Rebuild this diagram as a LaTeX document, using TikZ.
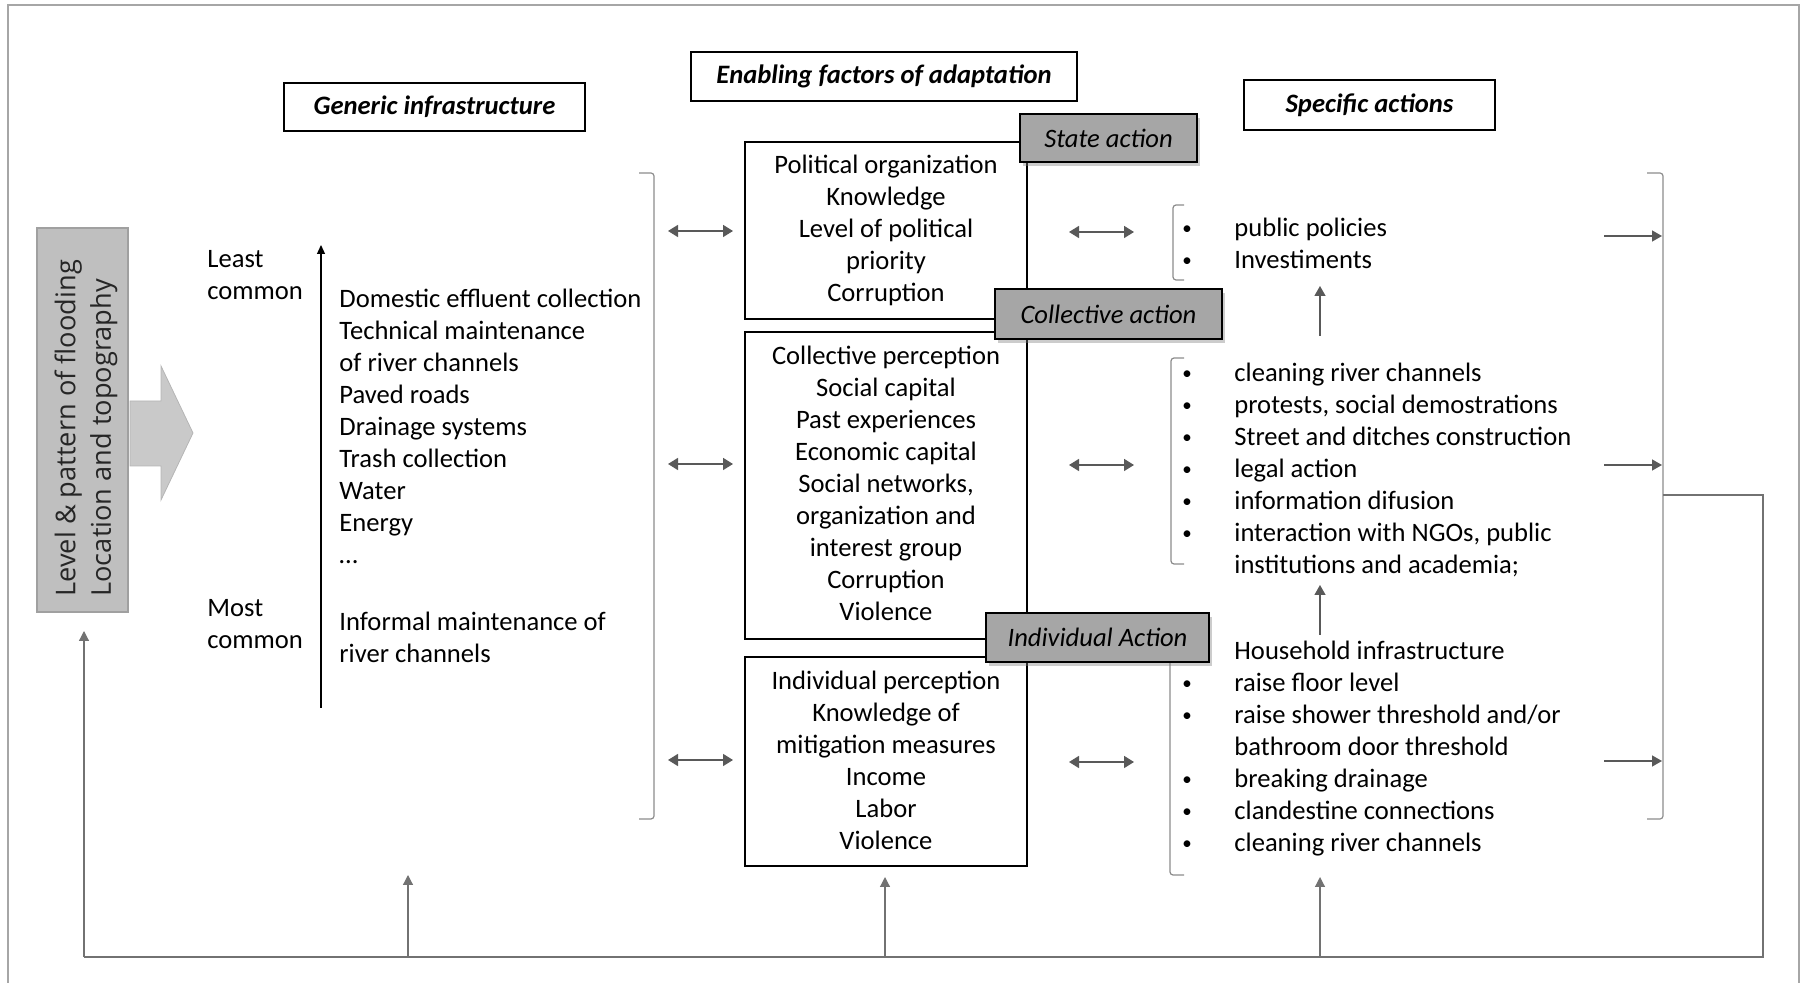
\documentclass[tikz,border=0pt]{standalone}
\usepackage{fontspec}
\setmainfont{Carlito}
\newfontfamily\rotfont{Open Sans}
\usetikzlibrary{arrows.meta,shadows}
\definecolor{arrgray}{HTML}{595959}
\definecolor{brgray}{HTML}{8C8C8C}
\definecolor{boxgray}{HTML}{BFBFBF}
\definecolor{boxedge}{HTML}{A0A0A0}
\definecolor{labgray}{HTML}{A6A6A6}
\definecolor{framegray}{HTML}{A6A6A6}
\definecolor{bigarrow}{HTML}{C9C9C9}
\newcommand\smbul{\strut\raisebox{1.2pt}{\fontsize{9.5}{16}\selectfont •}}
\begin{document}
\begin{tikzpicture}[x=0.5pt,y=-0.5pt,
  txt/.style={font=\fontsize{13.3}{16}\selectfont, inner sep=0pt, text=black},
  header/.style={draw=black, line width=0.7pt, font=\fontsize{13.3}{16}\selectfont\bfseries\itshape, inner sep=0pt},
  factbox/.style={draw=black, line width=0.8pt, inner sep=0pt, fill=white},
  actlabel/.style={draw=black, line width=1.4pt, fill=labgray, font=\fontsize{13.3}{16}\selectfont\itshape, inner sep=0pt, drop shadow={opacity=0.4,shadow xshift=1.5pt,shadow yshift=-2pt}},
  dblarrow/.style={arrgray, line width=0.8pt, {Triangle[length=5pt,width=6pt]}-{Triangle[length=5pt,width=6pt]}},
  onearrow/.style={arrgray, line width=0.7pt, -{Triangle[length=5pt,width=5.5pt]}},
  bracketline/.style={brgray, line width=0.6pt, rounded corners=1.5pt},
  loopline/.style={arrgray!85, line width=0.6pt},
]
\useasboundingbox (0,0) rectangle (1806,983);
% outer frame
\draw[framegray, line width=1pt] (8,983) -- (8,5) -- (1799,5) -- (1799,983);

% headers
\node[header, minimum width=150.5pt, minimum height=24pt] (hgen) at (434.5,107) {Generic infrastructure};
\node[header, minimum width=193pt, minimum height=24.5pt] (henab) at (884,76.5) {Enabling factors of adaptation};
\node[header, minimum width=125.5pt, minimum height=25pt] (hspec) at (1369.5,105) {Specific actions};

% left gray box and big arrow
\node[fill=boxgray, draw=boxedge, line width=0.6pt, minimum width=45.5pt, minimum height=192pt, inner sep=0pt] (flood) at (82.5,420) {};
\node[rotate=90, anchor=north west, align=left, inner sep=0pt, font=\rotfont\fontsize{13.6}{17.8}\selectfont, text=black!85] (floodtxt) at (50,597) {\strut Level \& pattern of flooding\\\strut Location and topography};
\draw[fill=bigarrow, draw=bigarrow!90!black, line width=0.4pt] (130,401) -- (161,401) -- (161,366) -- (193,433) -- (161,500) -- (161,466) -- (130,466) -- cycle;

% least / most
\node[txt, anchor=north west, align=left] (least) at (207,245) {\strut Least\\\strut common};
\node[txt, anchor=north west, align=left] (most) at (207,594) {\strut Most\\\strut common};
\coordinate (scaleB) at (321,708);
\coordinate (scaleT) at (321,245);
\draw[black, line width=0.6pt, -{Triangle[length=4.5pt,width=4pt]}] (scaleB) -- (scaleT);

% generic list
\node[txt, anchor=north west, align=left] (genlist) at (339,285) {\strut Domestic effluent collection\\\strut Technical maintenance\\\strut of river channels\\\strut Paved roads\\\strut Drainage systems\\\strut Trash collection\\\strut Water\\\strut Energy\\\strut …};
\node[txt, anchor=north west, align=left] (informal) at (339,608) {\strut Informal maintenance of\\\strut river channels};

% left bracket
\coordinate (lbT) at (654,173);
\coordinate (lbB) at (654,819);
\draw[bracketline] (639,173) -- (lbT) -- (lbB) -- (639,819);

% factor boxes
\node[factbox, minimum width=141pt, minimum height=88.5pt] (b1) at (886,230.5) {};
\node[factbox, minimum width=141pt, minimum height=153.5pt] (b2) at (886,485.5) {};
\node[factbox, minimum width=141pt, minimum height=104.5pt] (b3) at (886,761.5) {};
\node[txt, anchor=north, align=center] (b1t) at (886,151) {\strut Political organization\\\strut Knowledge\\\strut Level of political\\\strut priority\\\strut Corruption};
\node[txt, anchor=north, align=center] (b2t) at (886,342) {\strut Collective perception\\\strut Social capital\\\strut Past experiences\\\strut Economic capital\\\strut Social networks,\\\strut organization and\\\strut interest group\\\strut Corruption\\\strut Violence};
\node[txt, anchor=north, align=center] (b3t) at (886,667) {\strut Individual perception\\\strut Knowledge of\\\strut mitigation measures\\\strut Income\\\strut Labor\\\strut Violence};

% right small brackets
\draw[bracketline] (1184,205) -- (1173,205) -- (1173,280) -- (1184,280);
\draw[bracketline] (1184,358) -- (1171,358) -- (1171,564) -- (1184,564);
\draw[bracketline] (1170,650) -- (1170,875) -- (1184,875);

% action labels
\node[actlabel, minimum width=88.5pt, minimum height=24pt] (state) at (1108.5,138) {State action};
\node[actlabel, minimum width=113.5pt, minimum height=25pt] (coll) at (1108.5,314) {Collective action};
\node[actlabel, minimum width=111.5pt, minimum height=24.5pt] (indiv) at (1097.5,637.5) {Individual Action};

% specific lists
\node[txt, anchor=north, align=center] (bul1) at (1187,214) {\smbul\\\smbul};
\node[txt, anchor=north west, align=left] (list1) at (1234,214) {\strut public policies\\\strut Investiments};
\node[txt, anchor=north, align=center] (bul2) at (1187,359) {\smbul\\\smbul\\\smbul\\\smbul\\\smbul\\\smbul};
\node[txt, anchor=north west, align=left] (list2) at (1234,359) {\strut cleaning river channels\\\strut protests, social demostrations\\\strut Street and ditches construction\\\strut legal action\\\strut information difusion\\\strut interaction with NGOs, public\\\strut institutions and academia;};
\node[txt, anchor=north, align=center] (bul3) at (1187,637) {\strut\\\smbul\\\smbul\\\strut\\\smbul\\\smbul\\\smbul};
\node[txt, anchor=north west, align=left] (list3) at (1234,637) {\strut Household infrastructure\\\strut raise floor level\\\strut raise shower threshold and/or\\\strut bathroom door threshold\\\strut breaking drainage\\\strut clandestine connections\\\strut cleaning river channels};

% big right bracket
\coordinate (rbT) at (1663,173);
\coordinate (rbB) at (1663,819);
\coordinate (rbM) at (1663,495);
\draw[bracketline] (1647,173) -- (rbT) -- (rbB) -- (1647,819);

% double arrows left
\coordinate (da1a) at (668,231); \coordinate (da1b) at (733,231);
\coordinate (da2a) at (668,464); \coordinate (da2b) at (733,464);
\coordinate (da3a) at (668,760); \coordinate (da3b) at (733,760);
\draw[dblarrow] (da1a) -- (da1b);
\draw[dblarrow] (da2a) -- (da2b);
\draw[dblarrow] (da3a) -- (da3b);
% double arrows right
\coordinate (db1a) at (1069,232); \coordinate (db1b) at (1134,232);
\coordinate (db2a) at (1069,465); \coordinate (db2b) at (1134,465);
\coordinate (db3a) at (1069,762); \coordinate (db3b) at (1134,762);
\draw[dblarrow] (db1a) -- (db1b);
\draw[dblarrow] (db2a) -- (db2b);
\draw[dblarrow] (db3a) -- (db3b);
% up arrows between action groups
\coordinate (u1a) at (1320,336); \coordinate (u1b) at (1320,286);
\coordinate (u2a) at (1320,635); \coordinate (u2b) at (1320,585);
\draw[onearrow] (u1a) -- (u1b);
\draw[onearrow] (u2a) -- (u2b);
% right arrows to bracket
\coordinate (r1a) at (1604,236); \coordinate (r1b) at (1662,236);
\coordinate (r2a) at (1604,465); \coordinate (r2b) at (1662,465);
\coordinate (r3a) at (1604,761); \coordinate (r3b) at (1662,761);
\draw[onearrow] (r1a) -- (r1b);
\draw[onearrow] (r2a) -- (r2b);
\draw[onearrow] (r3a) -- (r3b);

% feedback loop
\coordinate (loopR) at (1763,495);
\coordinate (loopBR) at (1763,957);
\coordinate (loopBL) at (84,957);
\coordinate (loopTip) at (84,631);
\draw[loopline] (rbM) -- (loopR) -- (loopBR) -- (loopBL);
\draw[loopline, -{Triangle[length=5pt,width=5pt]}] (loopBL) -- (loopTip);
\coordinate (f1a) at (408,957); \coordinate (f1b) at (408,875);
\coordinate (f2a) at (885,957); \coordinate (f2b) at (885,877);
\coordinate (f3a) at (1320,957); \coordinate (f3b) at (1320,877);
\draw[loopline, -{Triangle[length=5pt,width=5pt]}] (f1a) -- (f1b);
\draw[loopline, -{Triangle[length=5pt,width=5pt]}] (f2a) -- (f2b);
\draw[loopline, -{Triangle[length=5pt,width=5pt]}] (f3a) -- (f3b);
\end{tikzpicture}
\end{document}
